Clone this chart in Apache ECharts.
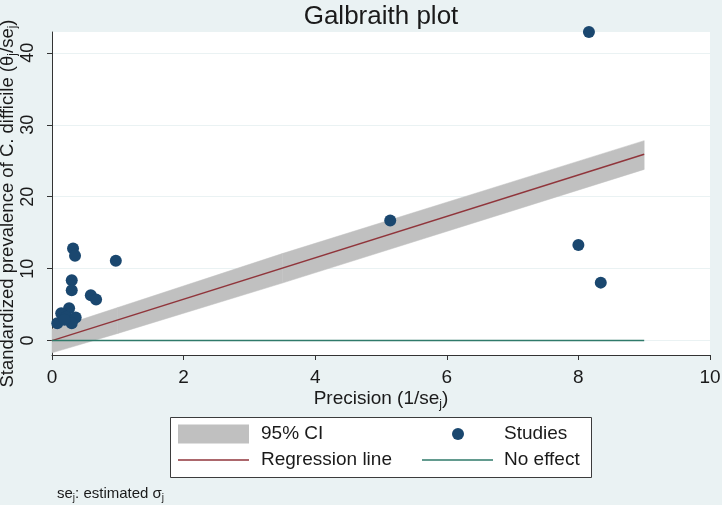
<!DOCTYPE html>
<html>
<head>
<meta charset="utf-8">
<script src="https://cdn.jsdelivr.net/npm/echarts@6/dist/echarts.min.js"></script>
<style>
html, body { margin: 0; padding: 0; background: #eaf2f3; }
#chart { width: 722px; height: 505px; }
</style>
</head>
<body>
<div id="chart"></div>
<script>
// studies: precision (1/se) and standardized prevalence (theta/se)
const precision = [0.32, 0.35, 0.97, 0.30, 0.30, 0.59, 0.67, 0.26, 0.14, 0.22, 0.36, 0.08, 0.30, 0.19, 5.14, 8.00, 8.34, 8.16]
const stdPrev = [12.8, 11.8, 11.1, 8.4, 7.0, 6.3, 5.7, 4.5, 3.8, 3.3, 3.2, 2.4, 2.4, 2.9, 16.7, 13.3, 8.06, 42.9]

// regression line and its 95% CI
const regX = [0, 9]
const regY = [0, 25.9]
const ciX = [0, 1, 3.5, 9]
const ciLow = [-1.7, 1.0, 8.0, 23.8]
const ciHigh = [1.6, 4.6, 12.1, 27.8]

// no effect line
const nullX = [0, 9]
const nullY = [0, 0]

const yTicks = [0, 10, 20, 30, 40]

const font = "'Liberation Sans', Arial, sans-serif"
const navy = '#1a476f'
const maroon = '#90353b'
const teal = '#2f7a6a'
const gray = '#c0c0c0'

let chart = echarts.init(document.getElementById('chart'))

let options = {
    backgroundColor: '#eaf2f3',
    animation: false,
    textStyle: { fontFamily: font },
    title: [
        {
            text: 'Galbraith plot',
            left: 381,
            top: 4,
            padding: 0,
            textAlign: 'center',
            textStyle: { fontSize: 26, fontWeight: 'normal', color: '#1a1a1a', fontFamily: font }
        },
        {
            text: 'se{sub|j}: estimated σ{sub|j}',
            left: 57,
            top: 485,
            padding: 0,
            textStyle: {
                fontSize: 15, fontWeight: 'normal', color: '#1a1a1a', fontFamily: font, lineHeight: 18,
                rich: { sub: { fontSize: 10, lineHeight: 10, verticalAlign: 'bottom', fontFamily: font, color: '#1a1a1a' } }
            }
        }
    ],
    grid: {
        left: 52, right: 12, top: 32, bottom: 150,
        containLabel: false,
        outerBoundsMode: 'none',
        show: true, backgroundColor: '#ffffff', borderWidth: 0
    },
    graphic: [
        {
            type: 'rect', z: -1,
            shape: { x: 170.5, y: 417.5, width: 421, height: 60 },
            style: { fill: '#ffffff', stroke: '#3c3c3c', lineWidth: 1 }
        }
    ],
    legend: [
        {
            data: [{ name: '95% CI', icon: 'rect', itemStyle: { color: gray } }],
            left: 178, top: 424, padding: 0, selectedMode: false,
            itemWidth: 71, itemHeight: 19,
            textStyle: { fontSize: 19, color: '#1a1a1a', fontFamily: font, lineHeight: 20, padding: [0, 0, 0, 7] }
        },
        {
            data: [{ name: 'Regression line', icon: 'rect', itemStyle: { color: maroon } }],
            left: 178, top: 450, padding: 0, selectedMode: false,
            itemWidth: 71, itemHeight: 1.5,
            textStyle: { fontSize: 19, color: '#1a1a1a', fontFamily: font, lineHeight: 20, padding: [0, 0, 0, 7] }
        },
        {
            data: [{ name: 'Studies', icon: 'circle' }],
            left: 452, top: 424, padding: 0, selectedMode: false,
            itemWidth: 12, itemHeight: 12,
            textStyle: { fontSize: 19, color: '#1a1a1a', fontFamily: font, lineHeight: 20, padding: [0, 0, 0, 35] }
        },
        {
            data: [{ name: 'No effect', icon: 'rect', itemStyle: { color: teal } }],
            left: 422, top: 450, padding: 0, selectedMode: false,
            itemWidth: 71, itemHeight: 1.5,
            textStyle: { fontSize: 19, color: '#1a1a1a', fontFamily: font, lineHeight: 20, padding: [0, 0, 0, 6] }
        }
    ],
    xAxis: {
        type: 'value',
        min: 0, max: 10, interval: 2,
        name: 'Precision (1/se{sub|j})',
        nameLocation: 'middle',
        nameGap: 32,
        nameMoveOverlap: false,
        nameTextStyle: {
            fontSize: 19, color: '#1a1a1a', fontFamily: font, lineHeight: 24,
            rich: { sub: { fontSize: 12, lineHeight: 12, verticalAlign: 'bottom', fontFamily: font, color: '#1a1a1a' } }
        },
        axisLine: { show: true, onZero: false, lineStyle: { color: '#333', width: 1 } },
        axisTick: { show: true, length: 5, lineStyle: { color: '#333' } },
        axisLabel: { fontSize: 19, color: '#1a1a1a', margin: 13, fontFamily: font },
        splitLine: { show: false }
    },
    yAxis: {
        type: 'value',
        min: -2, max: 42.9,
        name: 'Standardized prevalence of C. difficile (θ{sub|j}/se{sub|j})',
        nameLocation: 'middle',
        nameGap: 33,
        nameMoveOverlap: false,
        nameTextStyle: {
            fontSize: 18.5, color: '#1a1a1a', fontFamily: font, lineHeight: 22,
            padding: [0, 20, 0, 0],
            rich: { sub: { fontSize: 12, lineHeight: 12, verticalAlign: 'bottom', fontFamily: font, color: '#1a1a1a' } }
        },
        axisLine: { show: true, onZero: false, lineStyle: { color: '#333', width: 1 } },
        axisTick: { show: true, length: 5, customValues: yTicks, lineStyle: { color: '#333' } },
        axisLabel: { fontSize: 18, color: '#1a1a1a', margin: 15, rotate: 90, customValues: yTicks, fontFamily: font },
        splitLine: { show: true, lineStyle: { color: '#eaf2f3', width: 1 } }
    },
    series: [
        {
            name: '95% CI',
            type: 'custom',
            data: ciX.map((x, i) => [x, ciLow[i], ciHigh[i]]),
            encode: { x: 0, y: [1, 2] },
            renderItem: function (params, api) {
                let i = params.dataIndex
                if (i >= ciX.length - 1) return
                let pts = [
                    api.coord([ciX[i], ciLow[i]]),
                    api.coord([ciX[i + 1], ciLow[i + 1]]),
                    api.coord([ciX[i + 1], ciHigh[i + 1]]),
                    api.coord([ciX[i], ciHigh[i]])
                ]
                return {
                    type: 'polygon',
                    shape: { points: pts },
                    style: { fill: gray, stroke: gray, lineWidth: 0.5 }
                }
            },
            itemStyle: { color: gray },
            z: 1
        },
        {
            name: 'Regression line',
            type: 'line',
            data: regX.map((x, i) => [x, regY[i]]),
            showSymbol: false,
            symbol: 'none',
            lineStyle: { color: maroon, width: 1.5 },
            itemStyle: { color: maroon },
            z: 3
        },
        {
            name: 'No effect',
            type: 'line',
            data: nullX.map((x, i) => [x, nullY[i]]),
            showSymbol: false,
            symbol: 'none',
            lineStyle: { color: teal, width: 1.5 },
            itemStyle: { color: teal },
            z: 3
        },
        {
            name: 'Studies',
            type: 'scatter',
            data: precision.map((x, i) => [x, stdPrev[i]]),
            symbol: 'circle',
            symbolSize: 12,
            clip: false,
            itemStyle: { color: navy, opacity: 1 },
            z: 4
        }
    ]
}

chart.setOption(options)
</script>
</body>
</html>
